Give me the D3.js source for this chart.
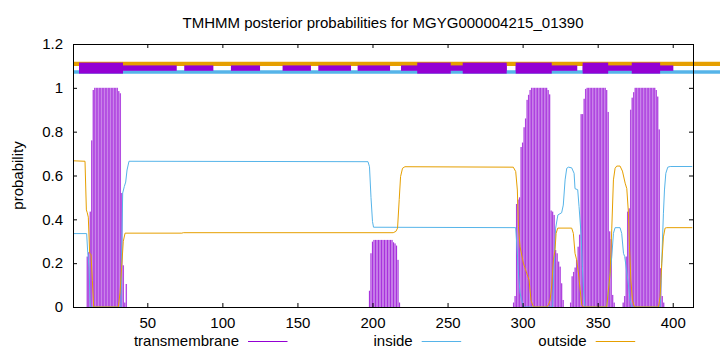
<!DOCTYPE html>
<html>
<head>
<meta charset="utf-8">
<script src="https://cdn.jsdelivr.net/npm/d3@7"></script>
<style>
  body { margin: 0; background: #fff; }
  svg { display: block; font-family: "Liberation Sans", Arial, sans-serif; }
</style>
</head>
<body>
<svg id="chart" width="720" height="352"></svg>
<script>
// Sequence range and tick labels
const xDomain = [0.5, 413.5];
const xTicks = [50, 100, 150, 200, 250, 300, 350, 400];
const yTicks = [0, 0.2, 0.4, 0.6, 0.8, 1, 1.2];

// Transmembrane posterior probability, one run of residues per helix region
const tmStarts = [10, 198, 294, 332, 367];
const tmRuns = [
  [0.23, 0.25, 0.435, 0.76, 0.99, 1, 1, 1, 1, 1, 1, 1, 1, 1, 1, 1, 1, 1, 1, 1, 1,
   0.985, 0.975, 0.52, 0.19, 0.02, 0.105],
  [0.074, 0.245, 0.298, 0.306, 0.306, 0.306, 0.306, 0.306, 0.306, 0.306, 0.306,
   0.306, 0.306, 0.306, 0.306, 0.306, 0.295, 0.29, 0.28, 0.215, 0.02],
  [0.02, 0.05, 0.47, 0.49, 0.5, 0.73, 0.75, 0.82, 0.86, 0.945, 0.968, 0.99,
   1, 1, 1, 1, 1, 1, 1, 1, 1, 1, 1,
   0.99, 0.97, 0.44, 0.435, 0.42, 0.26, 0.245, 0.207, 0.184, 0.108, 0.032],
  [0.02, 0.14, 0.16, 0.18, 0.215, 0.275, 0.33, 0.88, 0.88, 0.95, 0.995,
   1, 1, 1, 1, 1, 1, 1, 1, 1, 1, 1, 1, 1,
   0.99, 0.89, 0.345, 0.31, 0.055, 0.02],
  [0.02, 0.05, 0.23, 0.435, 0.45, 0.9, 0.955, 0.98,
   1, 1, 1, 1, 1, 1, 1, 1, 1, 1, 1, 1, 1, 1,
   0.99, 0.96, 0.81, 0.177, 0.05, 0.02]
];

// Inside probability, [residue, value]
const inside = [
  [1, 0.335], [9.6, 0.335], [10.3, 0.25], [11.2, 0.18], [12, 0], [32.5, 0],
  [32.9, 0.24], [33.6, 0.52], [34.7, 0.55], [35.6, 0.57], [36.5, 0.625], [37.8, 0.665],
  [197, 0.663], [198, 0.64], [199, 0.5], [200, 0.39], [200.7, 0.364],
  [295.4, 0.362], [296.5, 0.245], [297.2, 0.155], [298.3, 0.064], [300.5, 0],
  [320, 0], [321, 0.2], [322, 0.36], [323.5, 0.42], [326, 0.43], [327.1, 0.465],
  [328.3, 0.58], [329.4, 0.633], [330.5, 0.638], [332.7, 0.635], [334.3, 0.61],
  [334.9, 0.54], [336.7, 0.535], [337.6, 0.458], [338.9, 0.336], [339.8, 0.185],
  [340.7, 0.064], [341.6, 0], [356, 0], [357.8, 0.12], [359.4, 0.23], [360.5, 0.336],
  [361.6, 0.362], [364.9, 0.362], [366, 0.336], [367.2, 0.245], [368, 0.23],
  [369, 0.18], [370.5, 0.1], [371.6, 0.03], [372.7, 0], [391.6, 0], [392.3, 0.12],
  [393.2, 0.31], [393.8, 0.428], [394.5, 0.534], [395.4, 0.61], [396.7, 0.638],
  [398.3, 0.641], [413, 0.641]
];

// Outside probability, [residue, value]
const outside = [
  [1, 0.667], [8.5, 0.665], [9.4, 0.443], [10, 0.43], [10.7, 0.41], [11.6, 0.245],
  [12.5, 0.24], [13.4, 0.12], [14.3, 0], [30.7, 0], [31.8, 0.064], [32.9, 0.18],
  [34, 0.3], [35.2, 0.337], [73, 0.337], [74, 0.339], [213.8, 0.339], [215.6, 0.345],
  [216.7, 0.36], [217.8, 0.49], [218.7, 0.595], [220, 0.633], [221.6, 0.64],
  [293.8, 0.638], [295.4, 0.618], [296.5, 0.534], [297.2, 0.367], [298.3, 0.275],
  [300.5, 0.2], [302.7, 0.155], [304.3, 0.123], [305.6, 0.03], [307.2, 0],
  [316.1, 0], [317.2, 0.01], [318.3, 0.03], [319.4, 0.1], [320.5, 0.215],
  [321.6, 0.26], [322.3, 0.336], [323.4, 0.36], [332.7, 0.36], [333.8, 0.336],
  [334.9, 0.245], [336, 0.215], [337.2, 0.155], [338.3, 0.08], [339.4, 0.01],
  [340.5, 0], [356, 0], [358.3, 0.154], [359.4, 0.36], [360.5, 0.58], [361.6, 0.633],
  [362.7, 0.643], [364.9, 0.643], [366.5, 0.62], [368.3, 0.565], [369.4, 0.54],
  [370.5, 0.428], [371.2, 0.275], [372.1, 0.123], [373.2, 0.03], [374.5, 0],
  [390.5, 0], [391.6, 0.047], [392.7, 0.2], [393.8, 0.32], [394.9, 0.36],
  [396, 0.362], [413, 0.362]
];

// Topology band at the top: thin dashes and thick helix boxes, [from, to]
const bandDashes = [
  [4.5, 69.6], [74.6, 94], [105.7, 125.1], [140.1, 159], [163.9, 185.7],
  [190.1, 211.7], [219, 289.4], [295.4, 336.4], [340, 400.4]
];
const bandBoxes = [
  [4.5, 33.8], [229.8, 252.1], [260.1, 289.4], [295.4, 319.4], [340, 357], [372.7, 391.6]
];

const legendItems = ['transmembrane', 'inside', 'outside'];

const PURPLE = '#9400d3';
const PURPLE_LIGHT = '#dbb0f3';
const BLUE = '#56b4e9';
const ORANGE = '#e69f00';

const margin = { left: 73, right: 693, top: 44, bottom: 307 };

const svg = d3.select('#chart');
const x = d3.scaleLinear().domain(xDomain).range([margin.left, margin.right]);
const y = d3.scaleLinear().domain([0, 1.2]).range([margin.bottom, margin.top]);

// Title
svg.append('text')
  .attr('x', (margin.left + margin.right) / 2)
  .attr('y', 27.5)
  .attr('text-anchor', 'middle')
  .style('font-size', '15px')
  .text('TMHMM posterior probabilities for MGYG000004215_01390');

// Y axis label
svg.append('text')
  .attr('transform', `translate(23,${(margin.top + margin.bottom) / 2}) rotate(-90)`)
  .attr('text-anchor', 'middle')
  .style('font-size', '15px')
  .text('probability');

// Transmembrane impulses: a pale body with a darker stroke, like gnuplot's striping
const tmPoints = [];
tmStarts.forEach((start, i) => tmRuns[i].forEach((v, j) => tmPoints.push({ r: start + j, v })));
const step = x(2) - x(1);
svg.append('g')
  .attr('fill', PURPLE_LIGHT)
  .selectAll('rect')
  .data(tmPoints)
  .join('rect')
  .attr('x', d => x(d.r) - step / 2)
  .attr('width', step)
  .attr('y', d => y(d.v))
  .attr('height', d => y(0) - y(d.v));
svg.append('g')
  .attr('stroke', PURPLE)
  .attr('stroke-width', 0.9)
  .attr('stroke-opacity', 0.8)
  .selectAll('line')
  .data(tmPoints)
  .join('line')
  .attr('x1', d => x(d.r))
  .attr('x2', d => x(d.r))
  .attr('y1', y(0))
  .attr('y2', d => y(d.v));

// Inside and outside curves
const line = d3.line().x(d => x(d[0])).y(d => y(d[1]));
svg.append('path').datum(inside)
  .attr('fill', 'none').attr('stroke', BLUE).attr('stroke-width', 1).attr('d', line);
svg.append('path').datum(outside)
  .attr('fill', 'none').attr('stroke', ORANGE).attr('stroke-width', 1).attr('d', line);

// Topology band: outside and inside lines run on past the frame
svg.append('line')
  .attr('x1', margin.left).attr('x2', 720)
  .attr('y1', y(1.109)).attr('y2', y(1.109))
  .attr('stroke', ORANGE).attr('stroke-width', 4.3);
svg.append('line')
  .attr('x1', margin.left).attr('x2', 720)
  .attr('y1', y(1.072)).attr('y2', y(1.072))
  .attr('stroke', BLUE).attr('stroke-width', 3.5);
svg.append('g')
  .attr('fill', PURPLE)
  .selectAll('rect.dash')
  .data(bandDashes)
  .join('rect')
  .attr('x', d => x(d[0]))
  .attr('width', d => x(d[1]) - x(d[0]))
  .attr('y', y(1.09) - 2.7)
  .attr('height', 5.4);
svg.append('g')
  .attr('fill', PURPLE)
  .selectAll('rect.box')
  .data(bandBoxes)
  .join('rect')
  .attr('x', d => x(d[0]))
  .attr('width', d => x(d[1]) - x(d[0]))
  .attr('y', y(1.09) - 5.5)
  .attr('height', 11);

// Axes, gnuplot style: inward ticks mirrored on all four sides
const axisStyle = g => {
  g.select('.domain').remove();
  g.selectAll('.tick line').attr('stroke', '#000');
  g.selectAll('.tick text')
    .attr('fill', '#000')
    .style('font-size', '15px')
    .style('font-family', '"Liberation Sans", Arial, sans-serif');
};

svg.append('g')
  .attr('transform', `translate(0,${margin.bottom})`)
  .call(d3.axisBottom(x).tickValues(xTicks).tickSize(-4).tickPadding(10))
  .call(axisStyle);
svg.append('g')
  .attr('transform', `translate(0,${margin.top})`)
  .call(d3.axisTop(x).tickValues(xTicks).tickSize(-4).tickFormat(''))
  .call(axisStyle);
svg.append('g')
  .attr('transform', `translate(${margin.left},0)`)
  .call(d3.axisLeft(y).tickValues(yTicks).tickSize(-4).tickPadding(10)
    .tickFormat(d => d3.format('~g')(d)))
  .call(axisStyle);
svg.append('g')
  .attr('transform', `translate(${margin.right},0)`)
  .call(d3.axisRight(y).tickValues(yTicks).tickSize(-4).tickFormat(''))
  .call(axisStyle);

// Frame
svg.append('rect')
  .attr('x', margin.left + 0.5).attr('y', margin.top + 0.5)
  .attr('width', margin.right - margin.left).attr('height', margin.bottom - margin.top)
  .attr('fill', 'none').attr('stroke', '#000').attr('stroke-width', 1);

// Legend, text right-aligned before each sample line
const legendColors = [PURPLE, BLUE, ORANGE];
const legendRight = [239, 412.7, 586.7];
const legend = svg.append('g').selectAll('g')
  .data(legendItems)
  .join('g');
legend.append('text')
  .attr('x', (d, i) => legendRight[i])
  .attr('y', 346)
  .attr('text-anchor', 'end')
  .style('font-size', '15px')
  .text(d => d);
legend.append('line')
  .attr('x1', (d, i) => legendRight[i] + 9)
  .attr('x2', (d, i) => legendRight[i] + 48.5)
  .attr('y1', 341.5).attr('y2', 341.5)
  .attr('stroke', (d, i) => legendColors[i])
  .attr('stroke-width', 1);
</script>
</body>
</html>
